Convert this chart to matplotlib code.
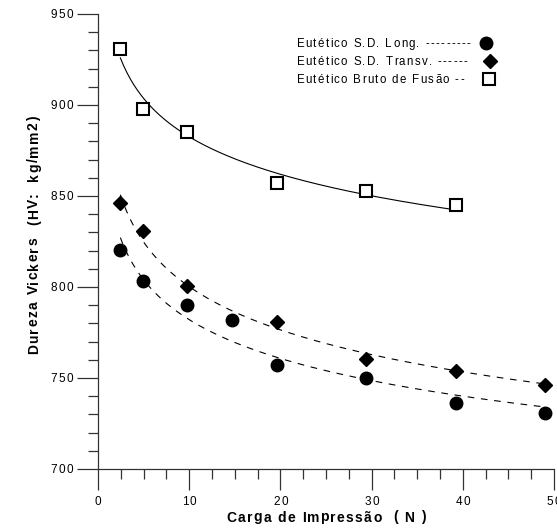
import numpy as np
import matplotlib
matplotlib.use("Agg")
import matplotlib.pyplot as plt
from matplotlib.ticker import MultipleLocator
from matplotlib.transforms import offset_copy, blended_transform_factory
from matplotlib.font_manager import findfont, FontProperties, get_font

# Data
x_long = [2.45, 4.9, 9.8, 14.7, 19.6, 29.4, 39.2, 49.0]
y_long = [820.5, 803.5, 790.0, 782.0, 757.0, 750.0, 736.5, 730.5]

x_transv = [2.45, 4.9, 9.8, 19.6, 29.4, 39.2, 49.0]
y_transv = [846.0, 831.0, 800.5, 780.5, 760.5, 754.0, 746.0]

x_bruto = [2.45, 4.9, 9.8, 19.6, 29.4, 39.2]
y_bruto = [931.0, 898.0, 885.0, 857.0, 853.0, 845.0]

legend_labels = ["Eutético S.D. Long. ---------",
                 "Eutético S.D. Transv. ------",
                 "Eutético Bruto de Fusão --"]
x_title = "Carga de Impressão  ( N )"
y_title = "Dureza Vickers  (HV:  kg/mm2)"

FAMILY = 'Liberation Sans'
DPI = 100
W, H = 557, 528
plt.rcParams['font.family'] = [FAMILY, 'DejaVu Sans']

fig = plt.figure(figsize=(W / DPI, H / DPI), dpi=DPI)
ax = fig.add_axes([98 / W, 1 - 469 / H, (554 - 98) / W, (469 - 14) / H])


def spaced_text(x, y, s, trans, size, weight='normal', spacing=1.5,
                ha='left', rotation=0, dx=0.0, dy=0.0):
    """Draw text with extra letter spacing (in pixels)."""
    font = get_font(findfont(FontProperties(family=FAMILY, weight=weight)))
    font.set_size(size, DPI)
    advs = [font.load_char(ord(c)).linearHoriAdvance / 65536 for c in s]
    total = sum(advs) + spacing * (len(s) - 1)
    pos = {'left': 0.0, 'center': -total / 2, 'right': -total}[ha]
    for c, a in zip(s, advs):
        if c != ' ':
            if rotation == 0:
                ox, oy = dx + pos, dy
            else:
                ox, oy = dx, dy + pos
            t = offset_copy(trans, fig=fig, x=ox, y=oy, units='dots')
            fig.text(x, y, c, transform=t, fontsize=size, fontweight=weight,
                     family=FAMILY, ha='left', va='baseline',
                     rotation=rotation, rotation_mode='anchor')
        pos += a + spacing


def power_fit(xs, ys):
    b, a = np.polyfit(np.log(xs), np.log(ys), 1)
    xf = np.linspace(min(xs), max(xs), 200)
    return xf, np.exp(a) * xf ** b


xf, yf = power_fit(x_bruto, y_bruto)
ax.plot(xf, yf, color='black', lw=0.8)
xf, yf = power_fit(x_transv, y_transv)
ax.plot(xf, yf, color='black', lw=0.8, dashes=(6, 6))
xf, yf = power_fit(x_long, y_long)
ax.plot(xf, yf, color='black', lw=0.8, dashes=(6, 6))

ax.plot(x_long, y_long, 'o', color='black', ms=9, ls='none', clip_on=False)
ax.plot(x_transv, y_transv, 'D', color='black', ms=7.5, ls='none', clip_on=False)
ax.plot(x_bruto, y_bruto, 's', mfc='white', mec='black', mew=1.5, ms=9,
        ls='none', clip_on=False)

ax.set_xlim(0, 50)
ax.set_ylim(700, 950)
ax.xaxis.set_major_locator(MultipleLocator(10))
ax.xaxis.set_minor_locator(MultipleLocator(2.5))
ax.yaxis.set_major_locator(MultipleLocator(50))
ax.yaxis.set_minor_locator(MultipleLocator(10))

for s in ['top', 'right']:
    ax.spines[s].set_visible(False)
for s in ['left', 'bottom']:
    ax.spines[s].set_linewidth(0.9)
    ax.spines[s].set_color('#333333')

ax.tick_params(axis='both', which='major', length=15, width=0.9,
               color='#333333', labelbottom=False, labelleft=False)
ax.tick_params(axis='both', which='minor', length=7, width=0.9,
               color='#333333')

# Tick labels (letter-spaced) at the axis tick positions
xtrans = blended_transform_factory(ax.transData, ax.transAxes)
for v in ax.get_xticks():
    if 0 <= v <= 50:
        spaced_text(v, 0, f"{v:g}", xtrans, 8.5, spacing=1.6, ha='center',
                    dy=-36)
ytrans = blended_transform_factory(ax.transAxes, ax.transData)
for v in ax.get_yticks():
    if 700 <= v <= 950:
        spaced_text(0, v, f"{v:g}", ytrans, 8.5, spacing=1.6, ha='right',
                    dx=-24.5, dy=-4.2)

# Axis titles
spaced_text(326 / W, 1 - 521.5 / H, x_title, fig.transFigure, 10,
            weight='bold', spacing=1.3, ha='center')
spaced_text(38 / W, 1 - 235 / H, y_title, fig.transFigure, 10,
            weight='bold', spacing=1.33, ha='center', rotation=90)

# Legend as text rows with markers
rows_base = [47.3, 65.3, 83.3]
mk_pos = [(485.7, 43.0), (490.0, 61.0), (489.3, 79.0)]
markers = [dict(marker='o', color='black', ms=9),
           dict(marker='D', color='black', ms=7),
           dict(marker='s', mfc='white', mec='black', mew=1.5, ms=8.5)]
for lab, yb, (mx, my), mk in zip(legend_labels, rows_base, mk_pos, markers):
    spaced_text(296.5 / W, 1 - yb / H, lab, fig.transFigure, 8.3,
                spacing=1.33)
    ax.plot([mx / W], [1 - my / H], transform=fig.transFigure, ls='none',
            clip_on=False, **mk)

fig.savefig("out.png", dpi=DPI)
